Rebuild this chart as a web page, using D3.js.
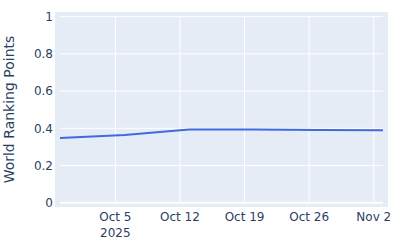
<!DOCTYPE html>
<html><head><meta charset="utf-8">
<script src="https://cdn.jsdelivr.net/npm/d3@7"></script>
<style>body{margin:0;background:#fff;} text{font-family:"DejaVu Sans",Verdana,sans-serif;}</style>
</head><body>
<svg id="c" width="400" height="250"></svg>
<script>
const dates = ["2025-09-29","2025-10-06","2025-10-13","2025-10-20","2025-10-27","2025-11-03"];
const points = [0.348,0.364,0.394,0.393,0.391,0.390];
const yTicks = [0,0.2,0.4,0.6,0.8,1];
const yTickLabels = ["0","0.2","0.4","0.6","0.8","1"];
const xTicks = ["2025-10-05","2025-10-12","2025-10-19","2025-10-26","2025-11-02"];
const xTickLabels = ["Oct 5","Oct 12","Oct 19","Oct 26","Nov 2"];
const yTitle = "World Ranking Points";
const yearLabel = "2025";

const parse = d3.utcParse("%Y-%m-%d");
const svg = d3.select("#c");
const bg = {x0:55,x1:388,y0:12,y1:207};
const x = d3.scaleUtc().domain([parse(dates[0]), parse(dates[dates.length-1])]).range([60,383]);
const y = d3.scaleLinear().domain([0,1]).range([202.7,16.7]);
const col = "#2a3f5f";

svg.append("rect").attr("x",bg.x0).attr("y",bg.y0).attr("width",bg.x1-bg.x0).attr("height",bg.y1-bg.y0).attr("fill","#e5ecf6");

const g = svg.append("g");
g.selectAll("line.vx").data(xTicks).join("line")
 .attr("x1",d=>x(parse(d))).attr("x2",d=>x(parse(d))).attr("y1",bg.y0+5).attr("y2",bg.y1-5)
 .attr("stroke","#fff").attr("stroke-width",1);
g.selectAll("line.hy").data(yTicks).join("line")
 .attr("x1",60).attr("x2",383).attr("y1",d=>y(d)).attr("y2",d=>y(d))
 .attr("stroke","#fff").attr("stroke-width",d=>d===0?2:1);

const line = d3.line().x((d,i)=>x(parse(dates[i]))).y(d=>y(d));
svg.append("path").datum(points).attr("d",line).attr("fill","none")
 .attr("stroke","#4169e1").attr("stroke-width",2).attr("stroke-linejoin","round");

svg.selectAll("text.yt").data(yTicks).join("text")
 .attr("x",53).attr("y",d=>y(d)).attr("dy","0.35em").attr("text-anchor","end")
 .attr("font-size",12).attr("fill",col).text((d,i)=>yTickLabels[i]);
svg.selectAll("text.xt").data(xTicks).join("text")
 .attr("x",d=>x(parse(d))).attr("y",221).attr("text-anchor","middle")
 .attr("font-size",12).attr("fill",col).text((d,i)=>xTickLabels[i]);
svg.append("text").attr("x",x(parse(xTicks[0]))).attr("y",237).attr("text-anchor","middle")
 .attr("font-size",12).attr("fill",col).text(yearLabel);
svg.append("text").attr("transform","translate(13.5,109.5) rotate(-90)").attr("text-anchor","middle")
 .attr("font-size",14).attr("fill",col).text(yTitle);
</script>
</body></html>
